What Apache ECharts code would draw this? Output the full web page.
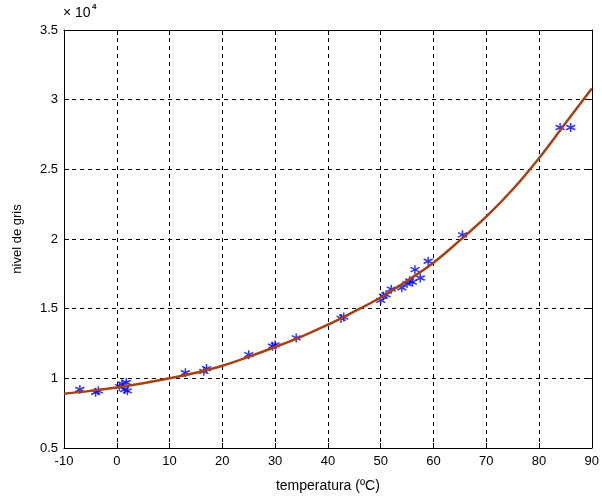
<!DOCTYPE html>
<html>
<head>
<meta charset="utf-8">
<script src="https://cdn.jsdelivr.net/npm/echarts@6/dist/echarts.min.js"></script>
<style>
  html, body { margin: 0; padding: 0; background: #fff; }
  #chart { width: 602px; height: 498px; }
</style>
</head>
<body>
<div id="chart"></div>
<script>
// Measured grey levels against temperature (ºC)
const tempMeasured = [-7, -4, -3.5, 0.5, 1, 1.5, 2, 1.8, 13, 16.5, 17, 25, 29.5, 30, 34, 42.5, 43,
  50, 50.5, 51, 52, 54, 55, 55.5, 56, 56.5, 57.5, 59, 65.5, 84, 86];
const grayMeasured = [9200, 9000, 9100, 9400, 9600, 9200, 9100, 9700, 10400, 10500, 10700, 11700, 12300, 12400, 12900,
  14300, 14400, 15600, 15900, 16000, 16400, 16500, 16800, 17000, 16900, 17800, 17200, 18400, 20300, 28000, 28000];

// Fitted calibration curve
const tempFit = [-10, -5, 0, 5, 10, 15, 20, 25, 30, 35, 40, 45, 50, 55, 60, 65, 70, 75, 80, 85, 90];
const grayFit = [8900, 9100, 9350, 9650, 10000, 10400, 10900, 11550, 12250, 13000, 13850, 14800, 15800, 17000,
  18300, 19900, 21600, 23550, 25800, 28300, 30800];

const xTicks = { min: -10, max: 90, interval: 10 };
const yTicks = { min: 5000, max: 35000, interval: 5000 };

const chart = echarts.init(document.getElementById('chart'), null, { renderer: 'canvas' });
const font = 'Liberation Sans, Arial, sans-serif';
const asterisk = 'path://M0,-5L0,5M-4.33,-2.5L4.33,2.5M-4.33,2.5L4.33,-2.5';

const baseX = {
  type: 'value', min: xTicks.min, max: xTicks.max, interval: xTicks.interval,
  axisLine: { show: true, onZero: false, lineStyle: { color: '#000', width: 1 } },
  axisTick: { show: true, inside: true, length: 5, lineStyle: { color: '#000' } }
};
const baseY = {
  type: 'value', min: yTicks.min, max: yTicks.max, interval: yTicks.interval,
  axisLine: { show: true, onZero: false, lineStyle: { color: '#000', width: 1 } },
  axisTick: { show: true, inside: true, length: 5, lineStyle: { color: '#000' } }
};

chart.setOption({
  backgroundColor: '#fff',
  animation: false,
  grid: { left: 64, right: 7, top: 30, bottom: 50 },
  xAxis: [
    Object.assign({}, baseX, {
      position: 'bottom',
      name: 'temperatura (ºC)', nameLocation: 'middle', nameGap: 31,
      nameTextStyle: { fontFamily: font, fontSize: 14, color: '#000' },
      axisLabel: { fontFamily: font, fontSize: 13, color: '#000', margin: 7 },
      splitLine: { show: true, lineStyle: { color: '#000', type: [4, 4], width: 1 } }
    }),
    Object.assign({}, baseX, {
      position: 'top', axisLabel: { show: false }, splitLine: { show: false }
    })
  ],
  yAxis: [
    Object.assign({}, baseY, {
      position: 'left',
      name: 'nivel de gris', nameLocation: 'middle', nameGap: 40,
      nameTextStyle: { fontFamily: font, fontSize: 13, color: '#000' },
      axisLabel: { fontFamily: font, fontSize: 13, color: '#000', margin: 6,
        formatter: v => String(v / 10000) },
      splitLine: { show: true, lineStyle: { color: '#000', type: [4, 4], width: 1 } }
    }),
    Object.assign({}, baseY, {
      position: 'right', axisLabel: { show: false }, splitLine: { show: false }
    })
  ],
  graphic: [
    { type: 'text', left: 63, top: 6,
      style: { text: '× 10', font: '14px ' + font, fill: '#000' } },
    { type: 'text', left: 92, top: 3,
      style: { text: '4', font: 'bold 8px ' + font, fill: '#000' } }
  ],
  series: [
    {
      type: 'line', xAxisIndex: 0, yAxisIndex: 0,
      data: tempFit.map((t, i) => [t, grayFit[i]]),
      smooth: 0.4, showSymbol: false, symbol: 'none',
      lineStyle: { color: '#a8400f', width: 2.5 },
      z: 3
    },
    {
      type: 'scatter', xAxisIndex: 0, yAxisIndex: 0,
      data: tempMeasured.map((t, i) => [t, grayMeasured[i]]),
      symbol: asterisk, symbolSize: 9,
      itemStyle: { color: 'rgba(0,0,0,0)', borderColor: '#0000ff', borderWidth: 1.5 },
      z: 2
    }
  ]
});
</script>
</body>
</html>
